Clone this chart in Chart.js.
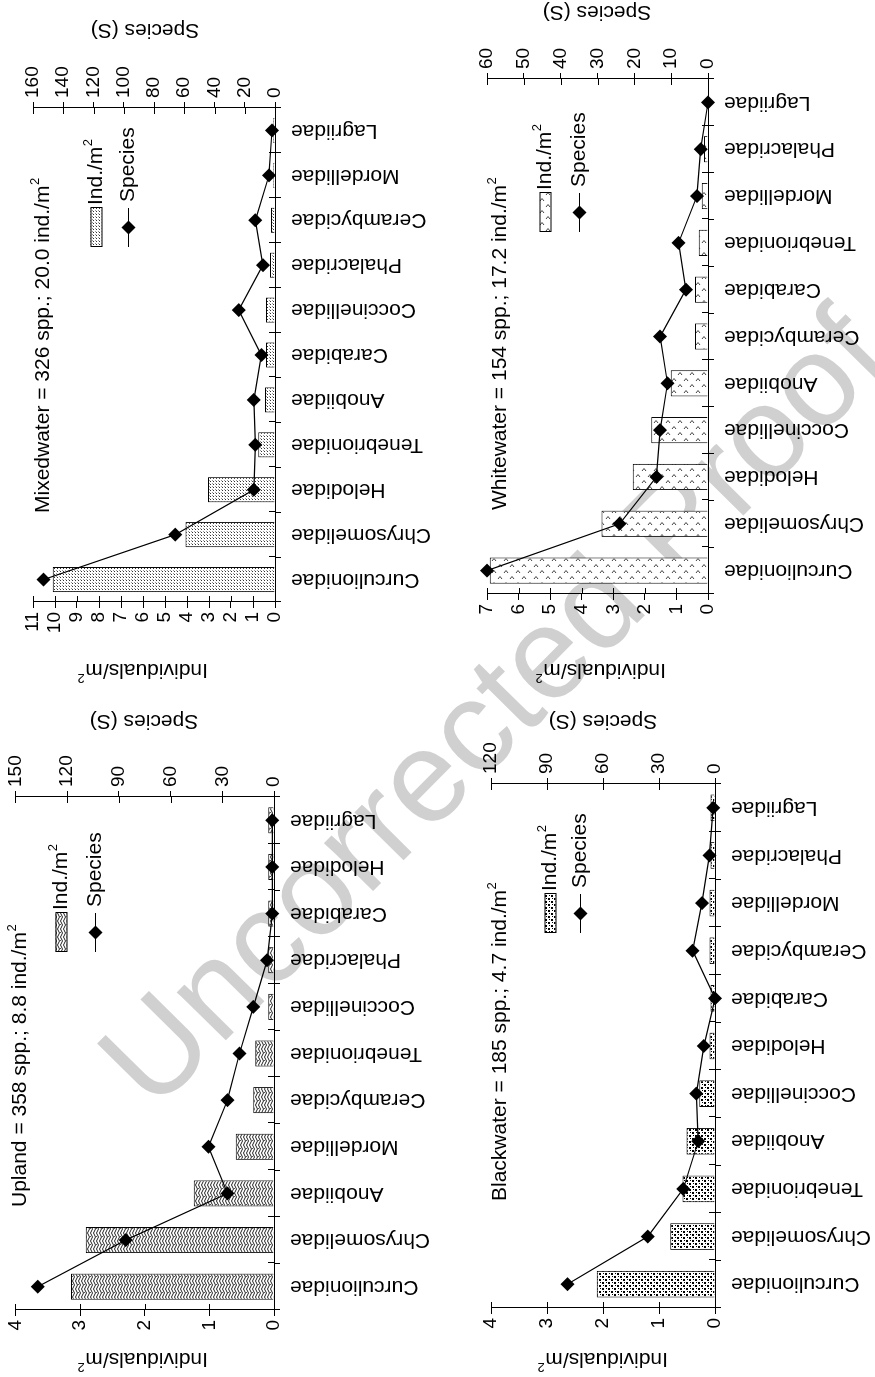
<!DOCTYPE html>
<html>
<head>
<meta charset="utf-8">
<script src="https://cdn.jsdelivr.net/npm/chart.js@4.4.1/dist/chart.umd.min.js"></script>
<style>
  html, body { margin: 0; padding: 0; background: #fff; }
  body { width: 875px; height: 1377px; position: relative; overflow: hidden; }
  #mark { position: absolute; left: 0; top: 0; z-index: 0; }
  /* the four panels are laid out in landscape, then turned to fit the page */
  #land { position: absolute; left: 0; top: 0; width: 1377px; height: 875px;
          transform-origin: 0 0; transform: translate(0, 1377px) rotate(-90deg); z-index: 1; }
  #land canvas { position: absolute; }
</style>
</head>
<body>
<canvas id="mark" width="875" height="1377"></canvas>
<div id="land">
  <canvas id="upland" width="688" height="437" style="left:0;top:0"></canvas>
  <canvas id="mixed" width="689" height="437" style="left:688px;top:0"></canvas>
  <canvas id="black" width="688" height="438" style="left:0;top:437px"></canvas>
  <canvas id="white" width="689" height="438" style="left:688px;top:437px"></canvas>
</div>
<script>
// families and values per habitat
const uplandCats = ['Curculionidae', 'Chrysomelidae', 'Anobiidae', 'Mordellidae', 'Cerambycidae',
  'Tenebrionidae', 'Coccinellidae', 'Phalacridae', 'Carabidae', 'Helodidae', 'Lagriidae'];
const uplandInd = [3.14, 2.91, 1.24, 0.59, 0.32, 0.29, 0.09, 0.09, 0.09, 0.09, 0.09];
const uplandSpp = [137, 86, 27, 38, 27, 20, 12, 4, 1, 1, 1];

const mixedCats = ['Curculionidae', 'Chrysomelidae', 'Helodidae', 'Tenebrionidae', 'Anobiidae',
  'Carabidae', 'Coccinellidae', 'Phalacridae', 'Cerambycidae', 'Mordellidae', 'Lagriidae'];
const mixedInd = [10.1, 4.07, 3.05, 0.76, 0.46, 0.41, 0.41, 0.23, 0.18, 0.08, 0.08];
const mixedSpp = [153, 66, 14, 13, 14, 9, 24, 8, 13, 4, 2];

const blackCats = ['Curculionidae', 'Chrysomelidae', 'Tenebrionidae', 'Anobiidae', 'Coccinellidae',
  'Helodidae', 'Carabidae', 'Cerambycidae', 'Mordellidae', 'Phalacridae', 'Lagriidae'];
const blackInd = [2.11, 0.80, 0.58, 0.51, 0.28, 0.10, 0.08, 0.10, 0.10, 0.08, 0.08];
const blackSpp = [79, 36, 17, 9, 10, 6, 0, 12, 7, 3, 1];

const whiteCats = ['Curculionidae', 'Chrysomelidae', 'Helodidae', 'Coccinellidae', 'Anobiidae',
  'Cerambycidae', 'Carabidae', 'Tenebrionidae', 'Mordellidae', 'Phalacridae', 'Lagriidae'];
const whiteInd = [6.91, 3.37, 2.38, 1.80, 1.18, 0.41, 0.41, 0.29, 0.20, 0.13, 0];
const whiteSpp = [60, 24, 14, 13, 11, 13, 6, 8, 3, 2, 0];

const FONT = '"Liberation Sans", Arial, Helvetica, sans-serif';
Chart.defaults.font.family = FONT;
Chart.defaults.color = '#000';

// bar fills
function tile(w, h, draw) {
  const c = document.createElement('canvas');
  c.width = w; c.height = h;
  const g = c.getContext('2d');
  g.fillStyle = '#fff';
  g.fillRect(0, 0, w, h);
  draw(g);
  return g.createPattern(c, 'repeat');
}

const zigzagFill = tile(8, 6, g => {
  g.strokeStyle = '#222';
  g.lineWidth = 1;
  g.beginPath();
  for (let r = 0; r < 2; r++) {
    const y0 = r * 3;
    g.moveTo(0, y0 + 0.5); g.lineTo(4, y0 + 2.5); g.lineTo(8, y0 + 0.5);
  }
  g.stroke();
  g.fillStyle = '#555';
  g.fillRect(4, 0, 1, 1);
  g.fillRect(0, 3, 1, 1);
});

const fineDots = tile(3, 3, g => {
  g.fillStyle = '#333';
  g.fillRect(0, 0, 1, 1);
  g.fillStyle = '#999';
  g.fillRect(1, 2, 1, 1);
});

const caretFill = tile(12, 12, g => {
  g.strokeStyle = '#444';
  g.lineWidth = 1;
  g.beginPath();
  [[2, 1], [8, 7]].forEach(([x, y]) => {
    g.moveTo(x, y); g.lineTo(x + 2.5, y + 2); g.lineTo(x, y + 4);
  });
  g.stroke();
});

const coarseDots = tile(6, 6, g => {
  g.fillStyle = '#000';
  g.fillRect(0, 0, 2, 2);
  g.fillRect(3, 3, 2, 2);
  g.fillRect(4, 1, 1, 1);
  g.fillRect(1, 4, 1, 1);
});

function supText(ctx, main, sup, x, y, size, align) {
  const small = Math.round(size * 0.62);
  ctx.font = size + 'px ' + FONT;
  const w1 = ctx.measureText(main).width;
  ctx.font = small + 'px ' + FONT;
  const w2 = ctx.measureText(sup).width;
  const x0 = align === 'center' ? x - (w1 + w2) / 2 : x;
  ctx.textAlign = 'left';
  ctx.textBaseline = 'middle';
  ctx.font = size + 'px ' + FONT;
  ctx.fillText(main, x0, y);
  ctx.font = small + 'px ' + FONT;
  ctx.fillText(sup, x0 + w1 + 0.5, y - size * 0.36);
}

function diamond(ctx, cx, cy, r) {
  ctx.beginPath();
  ctx.moveTo(cx, cy - r); ctx.lineTo(cx + r, cy); ctx.lineTo(cx, cy + r); ctx.lineTo(cx - r, cy);
  ctx.closePath();
  ctx.fill();
}

// crossing tick marks, titles and the legend
const decor = {
  id: 'decor',
  afterDraw(chart, args, o) {
    const ctx = chart.ctx, a = chart.chartArea;
    const {y, y1} = chart.scales;
    ctx.save();
    ctx.strokeStyle = '#000';
    ctx.lineWidth = 1;
    ctx.beginPath();
    y.ticks.forEach(t => {
      const p = Math.round(y.getPixelForValue(t.value)) + 0.5;
      ctx.moveTo(a.left, p); ctx.lineTo(a.left + 6, p);
    });
    y1.ticks.forEach(t => {
      const p = Math.round(y1.getPixelForValue(t.value)) + 0.5;
      ctx.moveTo(a.right - 6, p); ctx.lineTo(a.right, p);
    });
    const n = chart.data.labels.length, band = (a.right - a.left) / n;
    for (let i = 0; i <= n; i++) {
      const p = Math.round(a.left + i * band) + 0.5;
      ctx.moveTo(p, a.bottom - 6); ctx.lineTo(p, a.bottom);
    }
    ctx.stroke();

    ctx.fillStyle = '#000';
    supText(ctx, o.title, '2', o.titleX, o.titleY, 21, 'left');

    ctx.save();
    ctx.translate(o.indTitle[0], o.indTitle[1]);
    ctx.rotate(-Math.PI / 2);
    supText(ctx, 'Individuals/m', '2', 0, 0, 21, 'center');
    ctx.restore();

    ctx.save();
    ctx.translate(o.sppTitle[0], o.sppTitle[1]);
    ctx.rotate(-Math.PI / 2);
    ctx.font = '21px ' + FONT;
    ctx.textAlign = 'center';
    ctx.textBaseline = 'middle';
    ctx.fillText('Species (S)', 0, 0);
    ctx.restore();

    // legend
    const lx = o.legendX, bw = 39, bh = 11;
    ctx.fillStyle = chart.data.datasets[1].backgroundColor;
    ctx.fillRect(lx, o.boxY - bh / 2, bw, bh);
    ctx.strokeRect(lx + 0.5, o.boxY - bh / 2 + 0.5, bw, bh);
    ctx.fillStyle = '#000';
    supText(ctx, 'Ind./m', '2', lx + bw + 3, o.boxY, 21, 'left');
    ctx.beginPath();
    ctx.moveTo(lx, o.sppY + 0.5); ctx.lineTo(lx + bw, o.sppY + 0.5);
    ctx.stroke();
    diamond(ctx, lx + bw / 2, o.sppY + 0.5, 7);
    ctx.font = '21px ' + FONT;
    ctx.textAlign = 'left';
    ctx.textBaseline = 'middle';
    ctx.fillText('Species', lx + bw + 6, o.sppY);
    ctx.restore();
  }
};

function drawPanel(id, cats, ind, spp, fill, cfg) {
  new Chart(document.getElementById(id), {
    type: 'bar',
    data: {
      labels: cats,
      datasets: [
        {
          type: 'line', label: 'Species', data: spp, yAxisID: 'y1',
          borderColor: '#000', borderWidth: 1.2, tension: 0, clip: false,
          pointStyle: 'rectRot', pointRadius: 7, pointBackgroundColor: '#000',
          pointBorderColor: '#000', pointBorderWidth: 0, order: 0
        },
        {
          label: 'Ind./m2', data: ind, yAxisID: 'y',
          backgroundColor: fill, borderColor: '#000', borderWidth: 1,
          categoryPercentage: 1, barPercentage: 0.56, order: 1
        }
      ]
    },
    options: {
      responsive: false,
      animation: false,
      devicePixelRatio: 1,
      layout: { padding: { top: cfg.top, left: 0, right: 0, bottom: 0 } },
      plugins: {
        legend: { display: false },
        tooltip: { enabled: false },
        decor: cfg
      },
      scales: {
        x: {
          offset: true,
          grid: { offset: true, drawOnChartArea: false, tickLength: 6, color: '#000' },
          border: { color: '#000', width: 1 },
          ticks: { autoSkip: false, minRotation: 90, maxRotation: 90, padding: 10, font: { size: 21 } },
          afterFit: s => { s.height = cfg.bottom; }
        },
        y: {
          position: 'left', min: 0, max: cfg.indMax,
          grid: { drawOnChartArea: false, tickLength: 6, color: '#000' },
          border: { color: '#000', width: 1 },
          ticks: { stepSize: 1, autoSkip: false, padding: 4, font: { size: 19 } },
          afterFit: s => { s.width = cfg.left; }
        },
        y1: {
          position: 'right', min: 0, max: cfg.sppMax,
          grid: { drawOnChartArea: false, tickLength: 6, color: '#000' },
          border: { color: '#000', width: 1 },
          ticks: { stepSize: cfg.sppStep, autoSkip: false, padding: 4, font: { size: 19 } },
          afterFit: s => { s.width = cfg.right; }
        }
      }
    },
    plugins: [decor]
  });
}

drawPanel('upland', uplandCats, uplandInd, uplandSpp, zigzagFill, {
  left: 67, right: 108, top: 14, bottom: 163, indMax: 4, sppMax: 150, sppStep: 30,
  title: 'Upland = 358 spp.; 8.8 ind./m', titleX: 170, titleY: 20,
  legendX: 425, boxY: 61, sppY: 95, indTitle: [18, 143], sppTitle: [656, 144]
});
drawPanel('mixed', mixedCats, mixedInd, mixedSpp, fineDots, {
  left: 87, right: 108, top: 33, bottom: 162, indMax: 11, sppMax: 160, sppStep: 20,
  title: 'Mixedwater = 326 spp.; 20.0 ind./m', titleX: 176, titleY: 43,
  legendX: 442, boxY: 96, sppY: 128, indTitle: [19, 143], sppTitle: [659, 145]
});
drawPanel('black', blackCats, blackInd, blackSpp, coarseDots, {
  left: 69, right: 95, top: 54, bottom: 160, indMax: 4, sppMax: 120, sppStep: 30,
  title: 'Blackwater = 185 spp.; 4.7 ind./m', titleX: 176, titleY: 63,
  legendX: 444, boxY: 113, sppY: 143, indTitle: [18, 166], sppTitle: [656, 166]
});
drawPanel('white', whiteCats, whiteInd, whiteSpp, caretFill, {
  left: 95, right: 79, top: 50, bottom: 167, indMax: 7, sppMax: 60, sppStep: 10,
  title: 'Whitewater = 154 spp.; 17.2 ind./m', titleX: 179, titleY: 63,
  legendX: 457, boxY: 108, sppY: 142, indTitle: [19, 164], sppTitle: [677, 160]
});

// page watermark
(function () {
  const g = document.getElementById('mark').getContext('2d');
  g.save();
  g.translate(524, 738);
  g.rotate(-45.4 * Math.PI / 180);
  g.font = '130px ' + FONT;
  g.fillStyle = '#d0d0d0';
  g.textAlign = 'center';
  g.textBaseline = 'alphabetic';
  g.fillText('Uncorrected Proof', 0, 0);
  g.restore();
})();
</script>
</body>
</html>
